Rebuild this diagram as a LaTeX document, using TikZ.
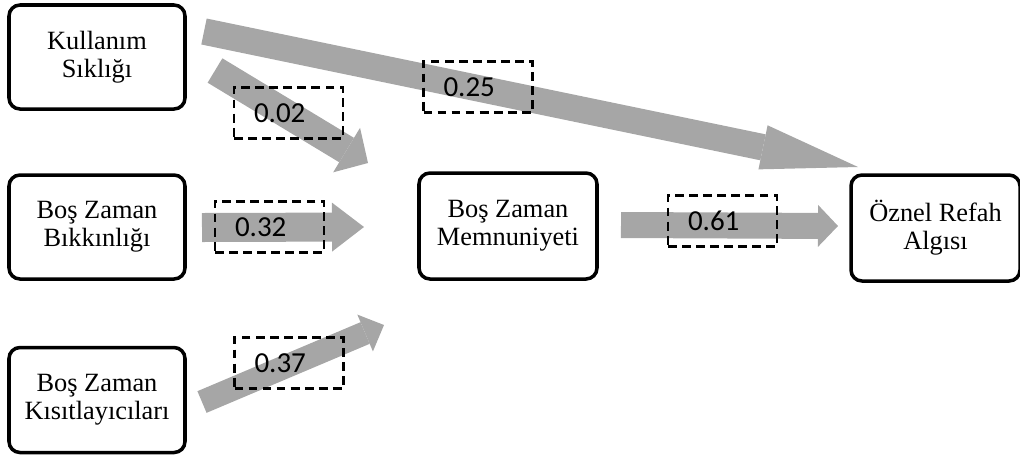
\documentclass[tikz,border=0pt]{standalone}
\usepackage{fontspec}
\setmainfont{Liberation Serif}
\newfontfamily\numfont{Carlito}
\usetikzlibrary{arrows.meta}
\definecolor{flowgray}{RGB}{166,166,166}

\begin{document}
\begin{tikzpicture}
	[
	align=center,
	box/.style={draw, line width=2pt, rounded corners=0.22cm, minimum width=3.52cm, minimum height=2.08cm, inner sep=0pt, font=\fontsize{15}{16}\selectfont},
	val/.style={draw, line width=1.3pt, dash pattern=on 5pt off 3pt, text width=1.38cm, inner xsep=0.4cm, inner ysep=0pt, minimum height=1.02cm, align=left, font=\numfont\fontsize{16.5}{18}\selectfont},
	flow/.style={draw=flowgray, line cap=butt},
	]
		\useasboundingbox (0,0) rectangle (20.4,-9.14);
		
		% predictors
		\node[box] (ks) at 		( 1.94, -1.14 ) {Kullanım\\Sıklığı};
		\node[box] (bb) at 		( 1.94, -4.54 ) {Boş Zaman\\Bıkkınlığı};
		\node[box, minimum height=2.10cm] (bk) at 		( 1.94, -8.00 ) {Boş Zaman\\Kısıtlayıcıları};
		
		% mediator and outcome
		\node[box, minimum width=3.56cm, minimum height=2.12cm] (bm) at 	(10.16, -4.52 ) {Boş Zaman\\Memnuniyeti};
		\node[box, minimum width=3.38cm, minimum height=2.12cm] (ra) at 	(18.71, -4.56 ) {Öznel Refah\\Algısı};
		
		% arrow ends
		\coordinate (s1) at 	( 4.08, -0.63 );	\coordinate (e1) at 	(17.16, -3.34 );
		\coordinate (s2) at 	( 4.30, -1.41 );	\coordinate (e2) at 	( 7.36, -3.26 );
		\coordinate (s3) at 	( 4.04, -4.55 );	\coordinate (e3) at 	( 7.28, -4.54 );
		\coordinate (s4) at 	( 4.04, -8.04 );	\coordinate (e4) at 	( 7.68, -6.50 );
		\coordinate (s5) at 	(12.42, -4.50 );	\coordinate (e5) at 	(16.76, -4.52 );
		
		\foreach \from/\to/\w/\hw/\hl in {s1/e1/0.53cm/0.90cm/1.94cm, s2/e2/0.57cm/1.04cm/0.50cm, s3/e3/0.58cm/0.98cm/0.64cm, s4/e4/0.47cm/0.80cm/0.41cm, s5/e5/0.52cm/0.84cm/0.40cm}
			\draw[flow, line width=\w, -{Triangle[length=\hl, width=\hw, line width=0pt 0 0]}] (\from) -- (\to);
		
		% coefficients
		\node[val] (v1) at 		( 9.56, -1.74 ) {0.25};
		\node[val] (v2) at 		( 5.77, -2.26 ) {0.02};
		\node[val] (v3) at 		( 5.39, -4.54 ) {0.32};
		\node[val] (v4) at 		( 5.78, -7.26 ) {0.37};
		\node[val] (v5) at 		(14.45, -4.42 ) {0.61};
		
	\end{tikzpicture}
\end{document}
